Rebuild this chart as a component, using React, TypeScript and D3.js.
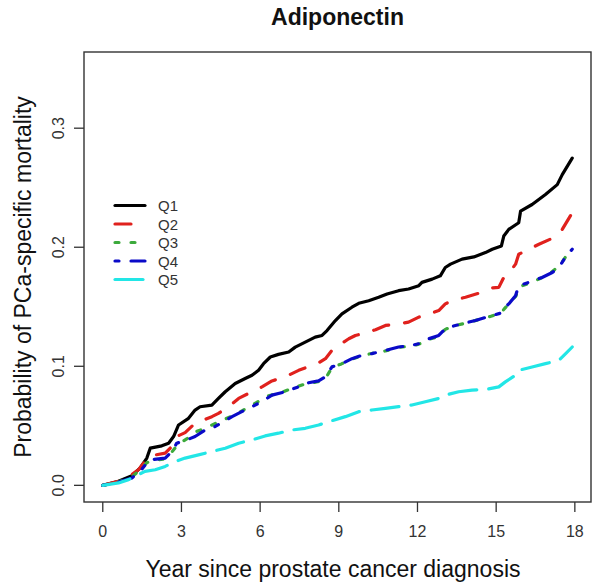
import React from 'react';
import * as d3 from 'd3';

// cumulative incidence of PCa-specific death: [year, probability]
const q1: [number, number][] = [
  [0, 0], [0.6, 0.0034], [1.11, 0.0081], [1.42, 0.0145], [1.68, 0.0229], [1.81, 0.0312],
  [2.25, 0.0332], [2.51, 0.0354], [2.7, 0.041], [2.89, 0.0507], [3.27, 0.0563], [3.52, 0.0632],
  [3.71, 0.066], [4.16, 0.0674], [4.41, 0.073], [4.67, 0.0786], [5.05, 0.0855], [5.43, 0.0897],
  [5.69, 0.0925], [5.94, 0.0967], [6.13, 0.1022], [6.39, 0.1078], [6.7, 0.11], [7.09, 0.112],
  [7.34, 0.1161], [7.72, 0.1203], [8.1, 0.1245], [8.36, 0.1259], [8.55, 0.13], [8.87, 0.1384],
  [9.12, 0.144], [9.5, 0.1496], [9.76, 0.1529], [10.14, 0.1551], [10.52, 0.1579], [10.84, 0.1607],
  [11.28, 0.1635], [11.66, 0.1649], [12.05, 0.1677], [12.17, 0.1705], [12.56, 0.1732], [12.87, 0.176],
  [13.06, 0.183], [13.26, 0.1858], [13.7, 0.19], [14.15, 0.1919], [14.59, 0.1955], [14.85, 0.1983],
  [15.2, 0.2011], [15.29, 0.2094], [15.48, 0.215], [15.86, 0.2206], [15.93, 0.2303], [16.37, 0.2359],
  [16.88, 0.2443], [17.33, 0.2526], [17.52, 0.261], [17.9, 0.2749],
];

const q2: [number, number][] = [
  [0, 0], [0.6, 0.0034], [1.11, 0.009], [1.36, 0.0131], [1.61, 0.0201], [1.81, 0.0248],
  [2.38, 0.027], [2.63, 0.0326], [2.82, 0.041], [3.14, 0.0443], [3.52, 0.0521], [3.9, 0.0554],
  [4.16, 0.0577], [4.41, 0.0605], [4.8, 0.066], [5.18, 0.073], [5.56, 0.0772], [5.81, 0.08],
  [6.07, 0.0827], [6.45, 0.0877], [6.96, 0.0911], [7.47, 0.0966], [7.98, 0.1008], [8.23, 0.1028],
  [8.49, 0.1064], [8.74, 0.1134], [9.0, 0.1176], [9.38, 0.1231], [9.63, 0.1259], [10.01, 0.1279],
  [10.4, 0.1307], [10.78, 0.1343], [11.28, 0.1357], [11.66, 0.1371], [12.05, 0.1413], [12.3, 0.1427],
  [12.81, 0.1468], [13.06, 0.1524], [13.32, 0.1552], [13.83, 0.158], [14.33, 0.1613], [14.85, 0.1658],
  [15.1, 0.1663], [15.29, 0.1746], [15.55, 0.1802], [15.74, 0.1858], [15.86, 0.1941], [16.24, 0.1983],
  [16.63, 0.2025], [17.14, 0.2075], [17.52, 0.215], [17.9, 0.2289],
];

const q3: [number, number][] = [
  [0, 0], [0.6, 0.003], [1.11, 0.007], [1.42, 0.013], [1.68, 0.019], [1.9, 0.021],
  [2.3, 0.022], [2.6, 0.027], [2.85, 0.034], [3.2, 0.039], [3.55, 0.045], [3.9, 0.048],
  [4.3, 0.052], [4.7, 0.056], [5.1, 0.06], [5.5, 0.065], [5.9, 0.07], [6.3, 0.075],
  [6.8, 0.078], [7.3, 0.082], [7.7, 0.085], [8.2, 0.087], [8.5, 0.09], [8.74, 0.099],
  [9.1, 0.102], [9.5, 0.106], [9.9, 0.109], [10.3, 0.111], [10.8, 0.113], [11.3, 0.116],
  [11.8, 0.117], [12.1, 0.119], [12.5, 0.123], [12.8, 0.125], [13.06, 0.131], [13.4, 0.134],
  [13.8, 0.136], [14.3, 0.139], [14.8, 0.142], [15.2, 0.145], [15.3, 0.148], [15.5, 0.153],
  [15.75, 0.159], [15.9, 0.167], [16.3, 0.17], [16.8, 0.175], [17.1, 0.179], [17.4, 0.184],
  [17.65, 0.192],
];

const q4: [number, number][] = [
  [0, 0], [0.6, 0.0028], [1.11, 0.0062], [1.42, 0.0117], [1.68, 0.0187], [1.81, 0.0214],
  [2.38, 0.0228], [2.63, 0.0284], [2.82, 0.0354], [3.14, 0.0376], [3.52, 0.041], [3.9, 0.0465],
  [4.16, 0.0479], [4.54, 0.0527], [4.93, 0.0577], [5.3, 0.0619], [5.69, 0.0661], [6.07, 0.0703],
  [6.45, 0.0758], [6.96, 0.0786], [7.47, 0.0828], [7.72, 0.0856], [8.23, 0.0878], [8.49, 0.0911],
  [8.74, 0.0995], [9.12, 0.1023], [9.5, 0.1064], [9.88, 0.1092], [10.26, 0.1106], [10.78, 0.1134],
  [11.28, 0.1162], [11.79, 0.1176], [12.05, 0.119], [12.43, 0.1231], [12.81, 0.1259], [13.06, 0.1315],
  [13.32, 0.1335], [13.7, 0.1357], [14.21, 0.1385], [14.72, 0.1418], [15.16, 0.1446], [15.23, 0.1474],
  [15.48, 0.1524], [15.74, 0.1593], [15.86, 0.1677], [16.24, 0.1705], [16.75, 0.1746], [17.14, 0.1788],
  [17.39, 0.183], [17.65, 0.1919], [17.9, 0.1983],
];

const q5: [number, number][] = [
  [0, 0], [0.6, 0.002], [0.98, 0.0048], [1.36, 0.009], [1.61, 0.0117], [2.0, 0.0131],
  [2.38, 0.0159], [2.76, 0.02], [3.14, 0.0229], [3.65, 0.0256], [4.16, 0.0284], [4.67, 0.0312],
  [5.18, 0.0354], [5.69, 0.0382], [6.19, 0.0415], [6.7, 0.0438], [7.21, 0.0465], [7.72, 0.0479],
  [8.23, 0.0507], [8.74, 0.0543], [9.25, 0.0577], [9.76, 0.0619], [10.26, 0.0633], [10.78, 0.0647],
  [11.28, 0.0661], [11.79, 0.0675], [12.3, 0.0702], [12.81, 0.073], [13.06, 0.0758], [13.57, 0.0786],
  [14.08, 0.08], [14.59, 0.0805], [15.1, 0.0827], [15.35, 0.0869], [15.74, 0.0925], [15.86, 0.0966],
  [16.37, 0.0994], [16.88, 0.1022], [17.39, 0.105], [17.65, 0.1106], [17.9, 0.1162],
];

const seriesNames = ['Q1', 'Q2', 'Q3', 'Q4', 'Q5'];
const seriesData = [q1, q2, q3, q4, q5];
const seriesColors = ['#000000', '#e0211d', '#3caa3c', '#0a0ac8', '#22e6e6'];
// R lty 1..5 scaled by lwd
const seriesDash = ['none', '16,16', '4,12', '4,12,16,12', '28,12'];

const xTicks = [0, 3, 6, 9, 12, 15, 18];
const yTicks = [0, 0.1, 0.2, 0.3];

const W = 601;
const H = 587;
const box = { left: 84, right: 591, top: 52, bottom: 502 };
const font = "'Liberation Sans', Arial, sans-serif";

export default function App() {
  const x = d3.scaleLinear().domain([-0.716, 18.616]).range([box.left, box.right]);
  const y = d3.scaleLinear().domain([-0.014, 0.364]).range([box.bottom, box.top]);

  const line = d3.line<[number, number]>()
    .x(d => x(d[0]))
    .y(d => y(d[1]));

  const legendX = 115;
  const legendY = 205.5;
  const legendStep = 18.5;

  return (
    <div style={{ position: 'absolute', left: 0, top: 0 }}>
      <svg width={W} height={H} style={{ display: 'block', background: '#fff', fontFamily: font }}>
        <text x={(box.left + box.right) / 2} y={25} textAnchor="middle" fontSize={23} fontWeight="bold" fill="#111">
          Adiponectin
        </text>

        <g fill="none" strokeWidth={3.2} strokeLinecap="round" strokeLinejoin="round">
          {seriesData.map((s, i) => (
            <path
              key={seriesNames[i]}
              d={line(s) ?? ''}
              stroke={seriesColors[i]}
              strokeDasharray={seriesDash[i]}
            />
          ))}
        </g>

        <rect
          x={box.left}
          y={box.top}
          width={box.right - box.left}
          height={box.bottom - box.top}
          fill="none"
          stroke="#333"
          strokeWidth={1.4}
        />

        {/* x axis */}
        <g>
          {xTicks.map(t => (
            <g key={t}>
              <line x1={x(t)} x2={x(t)} y1={box.bottom} y2={box.bottom + 10} stroke="#333" strokeWidth={1.3} />
              <text x={x(t)} y={537} textAnchor="middle" fontSize={16} fill="#333">{t}</text>
            </g>
          ))}
        </g>

        {/* y axis */}
        <g>
          {yTicks.map(t => (
            <g key={t}>
              <line x1={box.left - 10} x2={box.left} y1={y(t)} y2={y(t)} stroke="#333" strokeWidth={1.3} />
              <text
                transform={`translate(64,${y(t)}) rotate(-90)`}
                textAnchor="middle"
                fontSize={16}
                fill="#333"
              >
                {t.toFixed(1)}
              </text>
            </g>
          ))}
        </g>

        <text x={333} y={577} textAnchor="middle" fontSize={23} fill="#111">
          Year since prostate cancer diagnosis
        </text>
        <text
          transform={`translate(31,${(box.top + box.bottom) / 2}) rotate(-90)`}
          textAnchor="middle"
          fontSize={23}
          fill="#111"
        >
          Probability of PCa-specific mortality
        </text>

        {/* legend */}
        <g>
          {seriesNames.map((n, i) => (
            <g key={n}>
              <line
                x1={legendX}
                x2={legendX + 30}
                y1={legendY + i * legendStep}
                y2={legendY + i * legendStep}
                stroke={seriesColors[i]}
                strokeWidth={3.2}
                strokeLinecap="round"
                strokeDasharray={seriesDash[i]}
              />
              <text x={158} y={legendY + i * legendStep + 5.5} fontSize={15} fill="#333">{n}</text>
            </g>
          ))}
        </g>
      </svg>
    </div>
  );
}
